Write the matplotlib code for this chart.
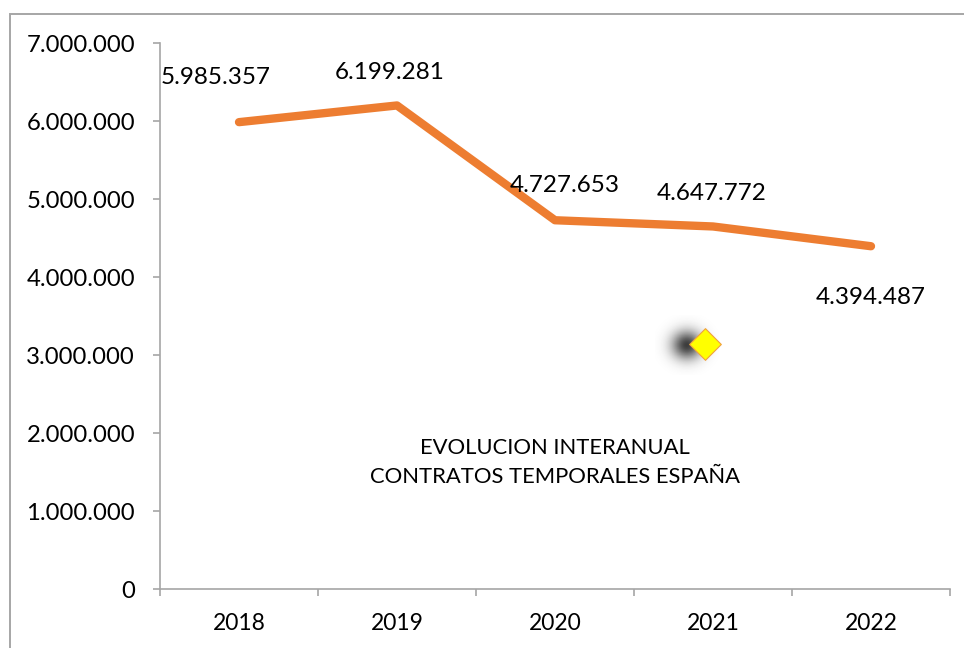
import numpy as np
import matplotlib
matplotlib.use("Agg")
import matplotlib.pyplot as plt
from matplotlib.patches import Rectangle
from matplotlib.ticker import FuncFormatter

plt.rcParams['font.family'] = ['Lato', 'DejaVu Sans']

#---------------- data ----------------
years = ['2018', '2019', '2020', '2021', '2022']
contratos = [5985357, 6199281, 4727653, 4647772, 4394487]
# label offsets (points) relative to each point
label_dx = [-17, -5, 7, -1, 0]
label_dy = [32, 24, 25, 24, -37]
title_lines = 'EVOLUCION INTERANUAL\nCONTRATOS TEMPORALES ESPAÑA'
# stray diamond shape on the original sheet
diamond_x, diamond_y = 2.95, 3140000

def miles(v, pos=None):
    return '{:,.0f}'.format(v).replace(',', '.')

fig = plt.figure(figsize=(9.64, 6.48), dpi=100)
ax = fig.add_axes([160/964, 1-589/648, (950-160)/964, (589-43)/648])

# chart border like the spreadsheet frame
fig.patches.append(Rectangle((10/964, -0.1), 1.2, 0.1+1-14/648, transform=fig.transFigure,
                             fill=False, edgecolor='#a6a6a6', linewidth=1.4, zorder=0))

x = np.arange(len(years))
ax.plot(x, contratos, color='#ed7d31', linewidth=6, solid_capstyle='round',
        solid_joinstyle='round', zorder=3)

for i, v in enumerate(contratos):
    ax.annotate(miles(v), (x[i], v), xytext=(label_dx[i], label_dy[i]),
                textcoords='offset points', ha='center', va='center', fontsize=17.5)

# diamond with soft blurred shadow
g = np.linspace(-1, 1, 100)
gx, gy = np.meshgrid(g, g)
blob = np.zeros((100, 100, 4))
blob[..., :3] = 0.15
blob[..., 3] = 0.9 * np.exp(-(gx**2 + gy**2) / 0.22)
ax.imshow(blob, extent=(diamond_x - 0.32, diamond_x + 0.08, diamond_y - 400000, diamond_y + 360000),
          aspect='auto', zorder=4, interpolation='bilinear')
ax.scatter([diamond_x], [diamond_y], s=260, marker='D', color='#ffff00',
           edgecolors='#f0a040', linewidths=0.8, zorder=5)

ax.text(0.5, 0.232, title_lines, transform=ax.transAxes, ha='center', va='center',
        fontsize=15.8, linespacing=1.6)

ax.set_ylim(0, 7000000)
ax.set_yticks(np.arange(0, 7000001, 1000000))
ax.yaxis.set_major_formatter(FuncFormatter(miles))
ax.set_xlim(-0.5, len(years) - 0.5)
ax.set_xticks(np.arange(-0.5, len(years), 1.0))
ax.set_xticklabels([])
ax.set_xticks(x, minor=True)
ax.set_xticklabels(years, minor=True)

for sp in ['top', 'right']:
    ax.spines[sp].set_visible(False)
for sp in ['left', 'bottom']:
    ax.spines[sp].set_color('#a6a6a6')
    ax.spines[sp].set_linewidth(1.2)

ax.tick_params(axis='y', direction='out', length=5, width=1.2, color='#a6a6a6',
               labelsize=17.2, pad=13)
ax.tick_params(axis='x', which='major', direction='out', length=5, width=1.2, color='#a6a6a6')
ax.tick_params(axis='x', which='minor', length=0, labelsize=16.5, pad=17)

fig.savefig('out.png', dpi=100)
